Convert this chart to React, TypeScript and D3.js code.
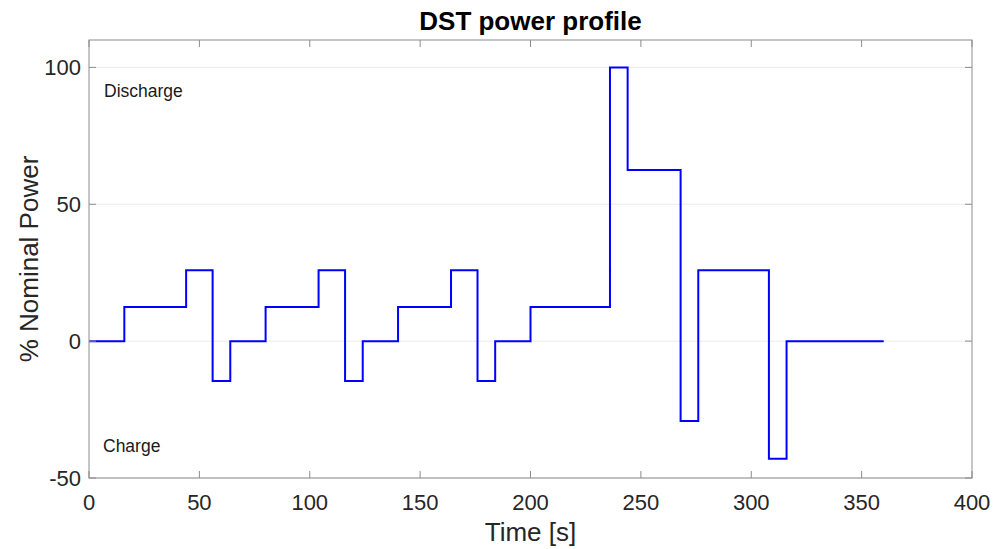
import { line, curveStepAfter, scaleLinear } from 'd3'

// DST step profile: start time of each step [s] and its power [% nominal]
const stepStart = [0, 16, 44, 56, 64, 80, 104, 116, 124, 140, 164, 176, 184, 200, 236, 244, 268, 276, 308, 316]
const stepPower = [0, 12.5, 25.9, -14.6, 0, 12.5, 25.9, -14.6, 0, 12.5, 25.9, -14.6, 0, 12.5, 100, 62.5, -29.2, 25.9, -43, 0]
const endTime = 360

const xTicks = [0, 50, 100, 150, 200, 250, 300, 350, 400]
const yTicks = [-50, 0, 50, 100]

const width = 1003
const height = 549
const margin = { left: 89, right: 31, top: 40, bottom: 71 }
const font = '"Liberation Sans", Arial, Helvetica, sans-serif'

const x = scaleLinear().domain([0, 400]).range([margin.left, width - margin.right])
const y = scaleLinear().domain([-50, 110]).range([height - margin.bottom, margin.top])

function App() {
  const pts: [number, number][] = stepStart.map((t, i) => [t, stepPower[i]])
  pts.push([endTime, stepPower[stepPower.length - 1]])

  const path = line<[number, number]>()
    .x(d => x(d[0]))
    .y(d => y(d[1]))
    .curve(curveStepAfter)

  const x0 = x(0), x1 = x(400)
  const yTop = y(110), yBot = y(-50)
  const tick = 7

  return (
    <svg width={width} height={height} style={{ position: 'absolute', left: 0, top: 0, background: '#fff' }}>
      {/* grid */}
      {yTicks.map(t => (
        <line key={'g' + t} x1={x0} x2={x1} y1={y(t)} y2={y(t)} stroke="#ebebeb" strokeWidth={1} />
      ))}

      {/* data */}
      <path d={path(pts) ?? ''} fill="none" stroke="#0000ff" strokeWidth={2} />

      {/* box */}
      <rect x={x0} y={yTop} width={x1 - x0} height={yBot - yTop} fill="none" stroke="#8c8c8c" strokeWidth={1} />

      {/* x ticks */}
      {xTicks.map(t => (
        <g key={'x' + t}>
          <line x1={x(t)} x2={x(t)} y1={yBot} y2={yBot - tick} stroke="#8c8c8c" />
          <line x1={x(t)} x2={x(t)} y1={yTop} y2={yTop + tick} stroke="#8c8c8c" />
          <text x={x(t)} y={502} textAnchor="middle" dominantBaseline="central"
            fontFamily={font} fontSize={22} fill="#262626">{t}</text>
        </g>
      ))}

      {/* y ticks */}
      {yTicks.map(t => (
        <g key={'y' + t}>
          <line x1={x0} x2={x0 + tick} y1={y(t)} y2={y(t)} stroke="#8c8c8c" />
          <line x1={x1} x2={x1 - tick} y1={y(t)} y2={y(t)} stroke="#8c8c8c" />
          <text x={x0 - 8} y={y(t)} textAnchor="end" dominantBaseline="central"
            fontFamily={font} fontSize={22} fill="#262626">{t}</text>
        </g>
      ))}

      {/* annotations */}
      <text x={104} y={91} dominantBaseline="central" fontFamily={font} fontSize={17.5} fill="#1a1a1a">Discharge</text>
      <text x={103} y={446} dominantBaseline="central" fontFamily={font} fontSize={17.5} fill="#1a1a1a">Charge</text>

      {/* labels */}
      <text x={(x0 + x1) / 2} y={21} textAnchor="middle" dominantBaseline="central"
        fontFamily={font} fontSize={26} fontWeight="bold" fill="#000">DST power profile</text>
      <text x={(x0 + x1) / 2} y={532} textAnchor="middle" dominantBaseline="central"
        fontFamily={font} fontSize={26} fill="#262626">Time [s]</text>
      <text transform={`translate(29, ${(yTop + yBot) / 2}) rotate(-90)`} textAnchor="middle" dominantBaseline="central"
        fontFamily={font} fontSize={26} fill="#262626">% Nominal Power</text>
    </svg>
  )
}

export default App
